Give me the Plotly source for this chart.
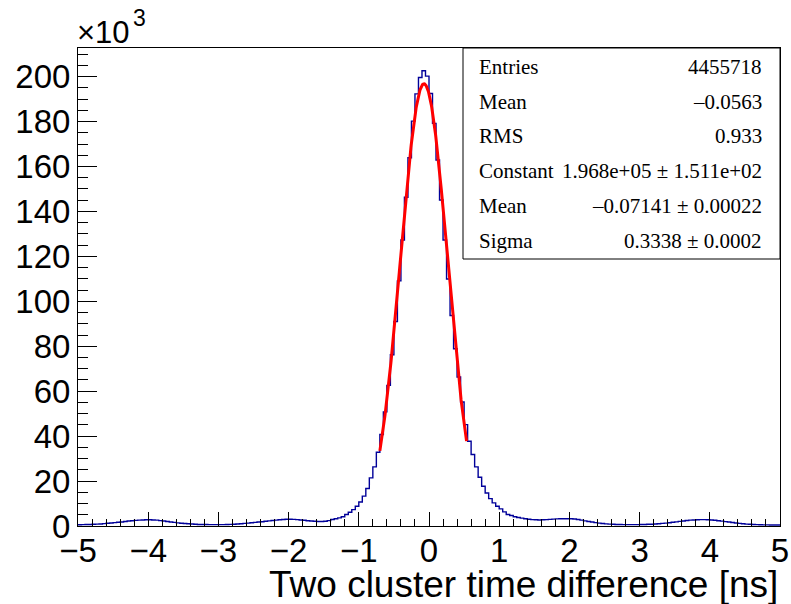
import numpy as np
import plotly.graph_objects as go

# ---- data (thousands of entries per 0.05 ns bin) ----
bin_lo = -5.0
bin_hi = 5.0
n_bins = 200
counts_k = [
    0.55, 0.6, 0.65, 0.7, 0.75, 0.85, 0.9, 1.05, 1.2, 1.35,
    1.5, 1.65, 1.8, 2.0, 2.2, 2.35, 2.5, 2.6, 2.7, 2.8,
    2.8, 2.7, 2.6, 2.4, 2.2, 2.0, 1.8, 1.6, 1.4, 1.25,
    1.1, 1.0, 0.9, 0.8, 0.7, 0.68, 0.65, 0.62, 0.6, 0.6,
    0.6, 0.62, 0.65, 0.72, 0.8, 0.9, 1.0, 1.15, 1.3, 1.45,
    1.6, 1.75, 1.9, 2.1, 2.3, 2.45, 2.6, 2.75, 2.9, 3.0,
    3.0, 2.95, 2.85, 2.7, 2.55, 2.35, 2.2, 2.1, 2.0, 2.0,
    2.1, 2.4, 2.9, 3.2, 3.6, 4.1, 5.1, 6.1, 7.3, 8.8,
    10.7, 13.3, 16.7, 21.4, 26.3, 32.8, 40.7, 50.8, 62.6, 76.2,
    91.0, 109.1, 127.3, 146.3, 163.9, 180.2, 192.3, 199.6, 202.6, 200.2,
    192.5, 179.2, 162.9, 145.1, 127.3, 109.9, 93.7, 78.9, 66.3, 55.2,
    45.1, 37.7, 31.8, 26.3, 21.7, 17.7, 14.7, 12.2, 10.3, 8.8,
    7.6, 6.3, 5.1, 4.7, 4.1, 3.8, 3.5, 3.2, 3.0, 2.85,
    2.75, 2.7, 2.75, 2.85, 2.95, 3.05, 3.15, 3.2, 3.25, 3.25,
    3.2, 3.1, 2.9, 2.6, 2.3, 2.0, 1.75, 1.5, 1.3, 1.1,
    0.95, 0.85, 0.75, 0.7, 0.65, 0.6, 0.6, 0.6, 0.6, 0.6,
    0.65, 0.7, 0.75, 0.8, 0.9, 1.0, 1.15, 1.3, 1.45, 1.65,
    1.85, 2.05, 2.25, 2.45, 2.6, 2.7, 2.8, 2.85, 2.85, 2.8,
    2.7, 2.55, 2.35, 2.15, 1.95, 1.75, 1.55, 1.35, 1.15, 1.0,
    0.85, 0.75, 0.65, 0.6, 0.55, 0.5, 0.5, 0.45, 0.45, 0.45,
]
assert len(counts_k) == n_bins

# Gaussian fit parameters (from stats box)
fit_constant_k = 196.8
fit_mean = -0.07141
fit_sigma = 0.3338
fit_range = [-0.70, 0.535]

stats_labels = ["Entries", "Mean", "RMS", "Constant", "Mean", "Sigma"]
stats_values = ["4455718", "–0.0563", "0.933", "1.968e+05 ± 1.511e+02",
                "–0.07141 ± 0.00022", "0.3338 ± 0.0002"]

x_ticks = [-5, -4, -3, -2, -1, 0, 1, 2, 3, 4, 5]
y_ticks = [0, 20, 40, 60, 80, 100, 120, 140, 160, 180, 200]
x_title = "Two cluster time difference [ns]"

# ---- build ----
edges = np.linspace(bin_lo, bin_hi, n_bins + 1)
hx = list(edges)
hy = list(counts_k) + [counts_k[-1]]

fx = np.linspace(fit_range[0], fit_range[1], 300)
fy = fit_constant_k * np.exp(-0.5 * ((fx - fit_mean) / fit_sigma) ** 2)

fig = go.Figure()
fig.add_trace(go.Scatter(x=hx, y=hy, mode="lines", line=dict(shape="hv", color="#000099", width=1.4),
                         hoverinfo="skip"))
fig.add_trace(go.Scatter(x=fx, y=fy, mode="lines", line=dict(color="#ff0000", width=3),
                         hoverinfo="skip"))

W, H = 791, 604
L, R, T, B = 78, 11, 48, 78
ymax = 1.05 * max(counts_k)

tickfont = dict(family="Liberation Sans, Arial, sans-serif", size=33, color="black")
fig.update_layout(
    width=W, height=H, margin=dict(l=L, r=R, t=T, b=B, autoexpand=False),
    paper_bgcolor="white", plot_bgcolor="white", showlegend=False,
    xaxis=dict(range=[bin_lo, bin_hi], tickvals=x_ticks, ticks="inside", ticklen=14, tickwidth=1,
               tickcolor="black", showline=True, linecolor="black", linewidth=1, mirror=True,
               showgrid=False, zeroline=False, tickfont=tickfont, automargin=False,
               ticklabelstandoff=-5,
               minor=dict(ticks="inside", dtick=0.2, ticklen=7, tickcolor="black", tickwidth=1, showgrid=False)),
    yaxis=dict(range=[0, ymax], tickvals=y_ticks, ticks="inside", ticklen=19, tickwidth=1,
               tickcolor="black", showline=True, linecolor="black", linewidth=1, mirror=True,
               showgrid=False, zeroline=False, tickfont=tickfont, automargin=False,
               minor=dict(ticks="inside", dtick=5, ticklen=10, tickcolor="black", tickwidth=1, showgrid=False)),
)

plot_h = H - T - B
def py(ypix):
    return (H - B - ypix) / plot_h
def px(xpix):
    return (xpix - L) / (W - L - R)

# stats box
box_left, box_bottom = 463, 259
fig.add_shape(type="rect", xref="paper", yref="paper", x0=px(box_left), x1=1, y0=py(box_bottom), y1=1,
              line=dict(color="black", width=1), fillcolor="white", layer="above")
row_y = [67, 102, 136, 171, 206, 241]
sfont = dict(family="Liberation Serif, Times New Roman, serif", size=21, color="black")
for lab, val, yy in zip(stats_labels, stats_values, row_y):
    fig.add_annotation(xref="paper", yref="paper", x=px(477), y=py(yy), text=lab, showarrow=False,
                       xanchor="left", yanchor="middle", font=sfont)
    fig.add_annotation(xref="paper", yref="paper", x=px(764), y=py(yy), text=val, showarrow=False,
                       xanchor="right", yanchor="middle", font=sfont)

# x10^3 exponent label
fig.add_annotation(xref="paper", yref="paper", x=px(75), y=py(33), text="×10", showarrow=False,
                   xanchor="left", yanchor="middle",
                   font=dict(family="Liberation Sans, Arial, sans-serif", size=31, color="black"))
fig.add_annotation(xref="paper", yref="paper", x=px(131), y=py(18), text="3", showarrow=False,
                   xanchor="left", yanchor="middle",
                   font=dict(family="Liberation Sans, Arial, sans-serif", size=23, color="black"))

# axis title
fig.add_annotation(xref="paper", yref="paper", x=1, y=py(584), text=x_title, showarrow=False,
                   xanchor="right", yanchor="middle",
                   font=dict(family="Liberation Sans, Arial, sans-serif", size=37, color="black"))

fig.write_html("out.html")
